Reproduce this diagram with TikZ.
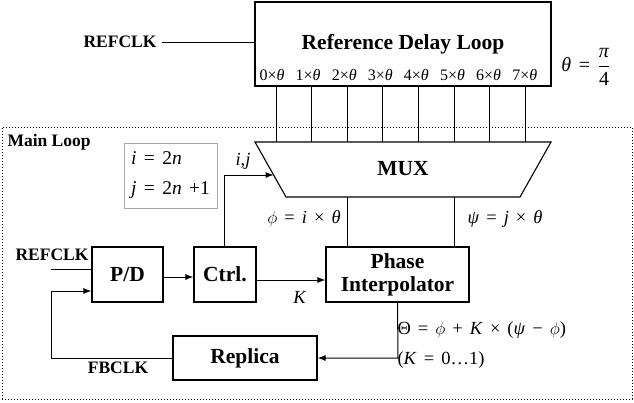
\documentclass[tikz,border=0pt]{standalone}
\usepackage{fontspec}
\setmainfont{Liberation Serif}
\usetikzlibrary{arrows.meta,calc}
\newcommand{\qs}{\hspace{0.38em}}
\newcommand{\mi}[1]{\textit{#1}}
\newcommand{\myphi}{$\phi$}
\begin{document}
\begin{tikzpicture}[x=1pt,y=-1pt, line width=1pt,
  blk/.style={draw, line width=1.1pt, font=\fontsize{21.5}{23}\selectfont\bfseries, inner sep=0pt, align=center},
  lbl/.style={font=\fontsize{17.5}{19}\selectfont\bfseries, inner sep=0pt},
  mth/.style={font=\fontsize{18.5}{20}\selectfont, inner sep=0pt},
  tap/.style={font=\fontsize{16}{17}\selectfont, inner sep=0pt},
  arr/.style={-{Latex[length=8pt,width=6pt]}},
]
\useasboundingbox (0,0) rectangle (634,402);

% Reference delay loop
\node[blk, minimum width=296pt, minimum height=84pt] (rdl) at (403,44) {Reference Delay Loop};
\node[lbl] (refclk1) at (120,42) {REFCLK};
\draw (refclk1.east) ++(5pt,0) coordinate (rc1) -- (rc1 -| rdl.west);
\foreach \k in {0,...,7}{
  \node[tap] (t\k) at ({272+36.1*\k},75) {\k×\mi{θ}};
}
\node[mth, font=\fontsize{20}{22}\selectfont] (thdef) at (586,67) {\mi{θ}\qs=\qs$\displaystyle\frac{\mbox{\mi{π}}}{\mbox{4}}$};

% Main loop frame
\node[draw, dotted, minimum width=630pt, minimum height=272pt, inner sep=0pt] (main) at (317,263) {};
\node[lbl, anchor=west] (ml) at (7,142) {Main Loop};

% MUX
\coordinate (m1) at (255,142);
\coordinate (m2) at (551,142);
\coordinate (m3) at (520,197);
\coordinate (m4) at (286,197);
\draw[line width=1.1pt] (m1) -- (m2) -- (m3) -- (m4) -- cycle;
\node[blk, draw=none] (mux) at (403,169) {MUX};
\foreach \k in {0,...,7}{
  \coordinate (ls\k) at ({276+35.6*\k},0);
  \draw (ls\k |- rdl.south) -- (ls\k |- m1);
}

% i,j box
\node[draw=gray!70, line width=1pt, minimum width=93pt, minimum height=65pt, inner sep=0pt, align=left,
      font=\fontsize{19.5}{21}\selectfont] (ijbox) at (170.5,175.5)
      {\mi{i}\qs=\qs2\mi{n}\\[9pt]\mi{j}\qs=\qs2\mi{n}\qs+1};

% blocks
\node[blk, minimum width=71pt, minimum height=55pt] (pd) at (127.5,274.5) {P/D};
\node[blk, minimum width=62pt, minimum height=55pt] (ctrl) at (225,274.5) {Ctrl.};
\node[blk, minimum width=143pt, minimum height=55pt] (pi) at (397.5,274.5) {Phase\\Interpolator};
\node[blk, minimum width=144pt, minimum height=44pt] (rep) at (245,358) {Replica};

% phi / psi lines
\coordinate (phx) at (347,0);
\coordinate (psx) at (454,0);
\draw (phx |- m4) -- (phx |- pi.north);
\draw (psx |- m4) -- (psx |- pi.north);
\node[mth] (phil) at (304,219) {\myphi\qs=\qs\mi{i}\qs×\qs\mi{θ}};
\node[mth] (psil) at (505,219) {\mi{ψ}\qs=\qs\mi{j}\qs×\qs\mi{θ}};

% ctrl -> mux
\coordinate (ijc) at (224,175);
\coordinate (mxe) at (273.6,175);
\draw[arr] (ijc |- ctrl.north) -- (ijc) -- (mxe);
\node[mth] (ijl) at (243,161) {\mi{i},\mi{j}};

% left inputs
\node[lbl] (refclk2) at (52,255) {REFCLK};
\coordinate (rin) at (51,269);
\draw (rin) -- (rin -| pd.west);
\draw[arr] ([yshift=-2.5pt]pd.east) -- ([yshift=-2.5pt]pd.east -| ctrl.west);
\draw[arr] ([yshift=-5.5pt]ctrl.east) -- ([yshift=-5.5pt]ctrl.east -| pi.west);
\node[mth] (kl) at (300,297) {\mi{K}};

% PI -> replica
\coordinate (piout) at (398,358);
\draw[arr] (pi.south) -- (piout) -- (rep.east);

% feedback
\coordinate (fb1) at (51,358);
\coordinate (fb2) at (51,291);
\draw[arr] (rep.west) -- (fb1) -- (fb2) -- (fb2 -| pd.west);
\node[lbl] (fbl) at (118,368) {FBCLK};

% formula
\node[mth, anchor=west] (form1) at (397,330) {Θ\qs=\qs\myphi\qs+\qs\mi{K}\qs×\qs(\mi{ψ}\qs−\qs\myphi)};
\node[mth, anchor=west] (form2) at (397,360) {(\mi{K}\qs=\qs0…1)};
\end{tikzpicture}
\end{document}
